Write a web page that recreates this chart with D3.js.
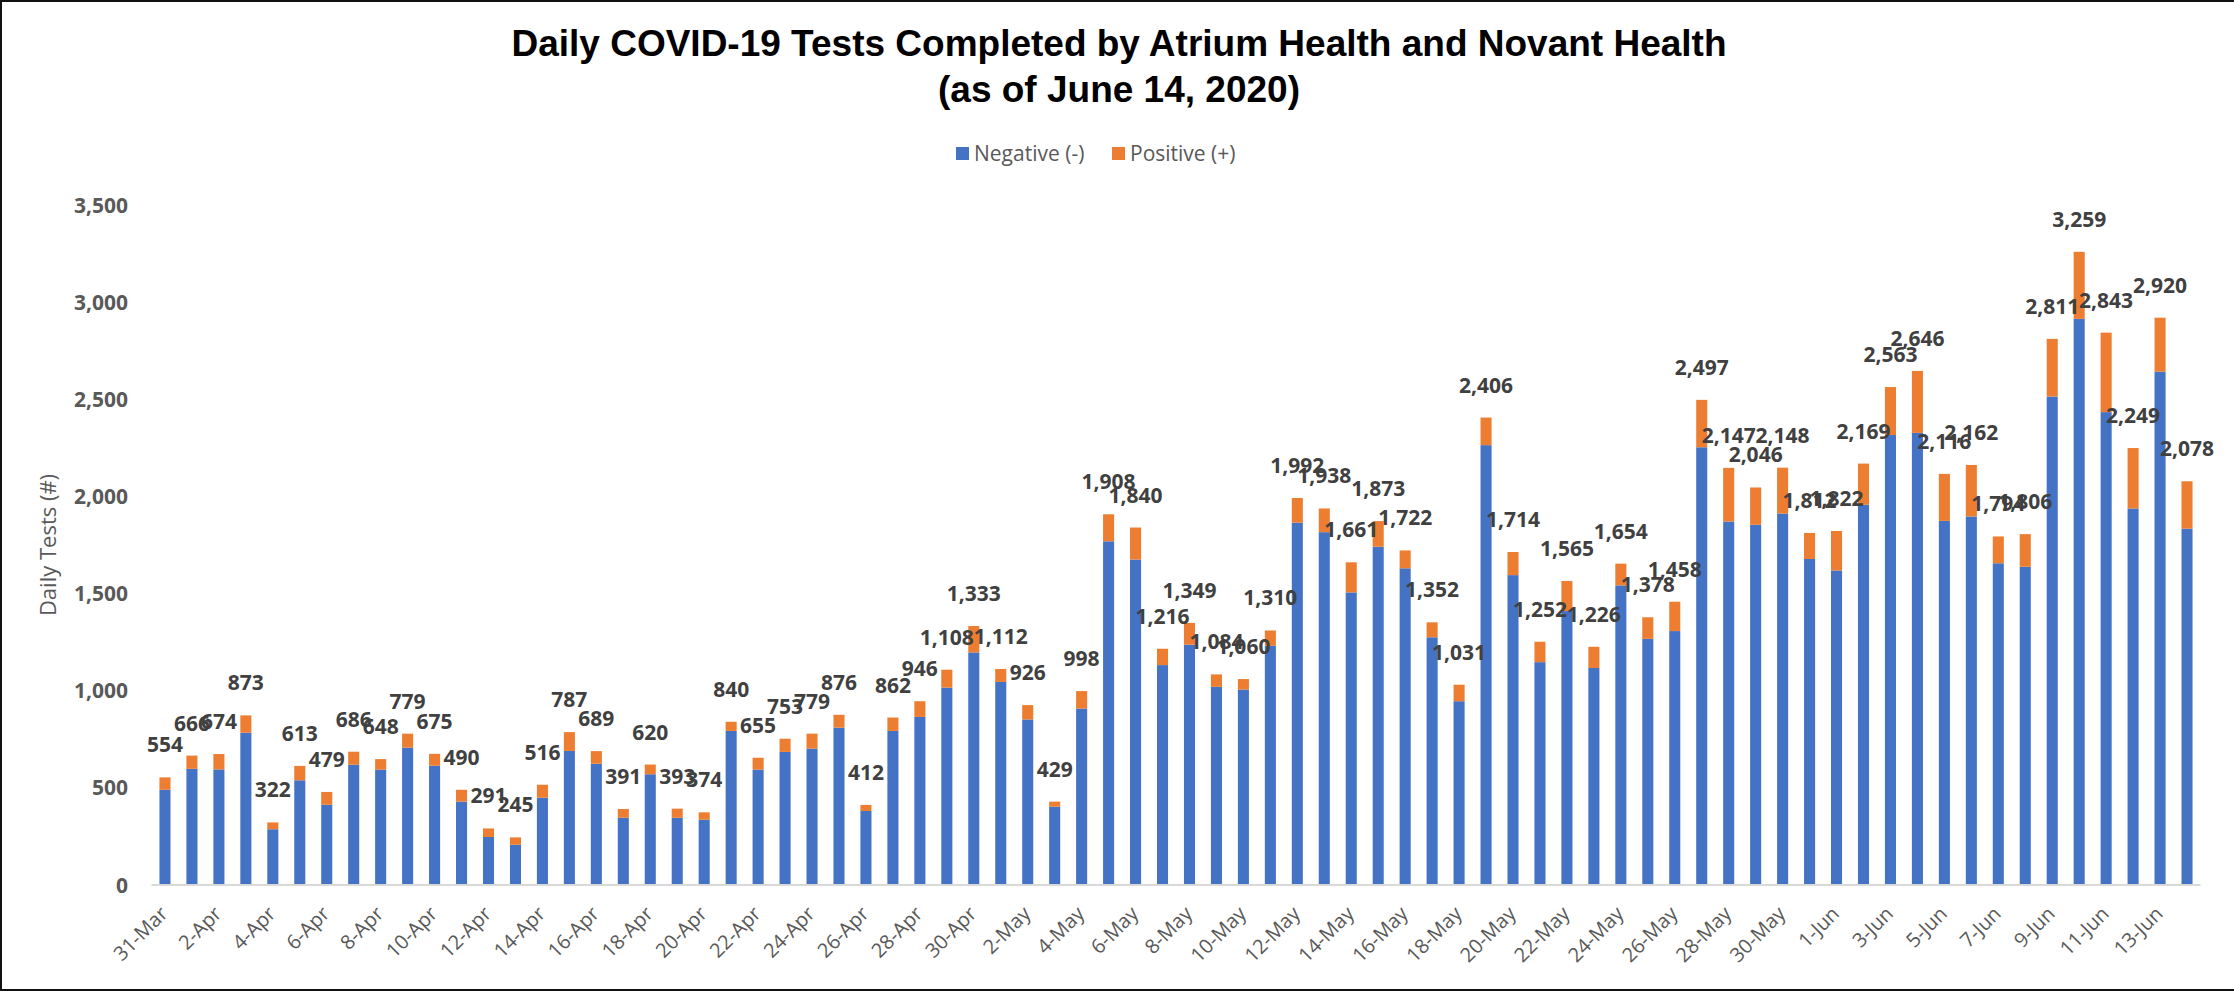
<!DOCTYPE html>
<html>
<head>
<meta charset="utf-8">
<script src="https://cdn.jsdelivr.net/npm/d3@7"></script>
<style>
  body { margin: 0; background: #fff; }
  svg { display: block; }
</style>
</head>
<body>
<svg id="chart" width="2234" height="992"></svg>
<script>
// Daily tests
var dates = ["31-Mar",
  "1-Apr","2-Apr","3-Apr","4-Apr","5-Apr","6-Apr","7-Apr","8-Apr","9-Apr","10-Apr",
  "11-Apr","12-Apr","13-Apr","14-Apr","15-Apr","16-Apr","17-Apr","18-Apr","19-Apr","20-Apr",
  "21-Apr","22-Apr","23-Apr","24-Apr","25-Apr","26-Apr","27-Apr","28-Apr","29-Apr","30-Apr",
  "1-May","2-May","3-May","4-May","5-May","6-May","7-May","8-May","9-May","10-May",
  "11-May","12-May","13-May","14-May","15-May","16-May","17-May","18-May","19-May","20-May",
  "21-May","22-May","23-May","24-May","25-May","26-May","27-May","28-May","29-May","30-May","31-May",
  "1-Jun","2-Jun","3-Jun","4-Jun","5-Jun","6-Jun","7-Jun","8-Jun","9-Jun","10-Jun",
  "11-Jun","12-Jun","13-Jun","14-Jun"];

// total tests (the data labels)
var totals = [554,
  666,674,873,322,613,479,686,648,779,675,
  490,291,245,516,787,689,391,620,393,374,
  840,655,753,779,876,412,862,946,1108,1333,
  1112,926,429,998,1908,1840,1216,1349,1084,1060,
  1310,1992,1938,1661,1873,1722,1352,1031,2406,1714,
  1252,1565,1226,1654,1378,1458,2497,2147,2046,2148,1812,
  1822,2169,2563,2646,2116,2162,1794,1806,2811,3259,
  2843,2249,2920,2078];

// negative part (blue)
var negatives = [490,
  598,595,784,287,539,413,619,594,707,614,
  429,247,207,449,690,624,346,570,346,336,
  793,594,685,702,810,381,793,865,1016,1197,
  1045,852,403,908,1769,1675,1132,1237,1020,1006,
  1231,1865,1816,1506,1741,1630,1275,946,2264,1595,
  1147,1410,1117,1542,1267,1307,2253,1871,1854,1912,1678,
  1619,1957,2316,2327,1874,1897,1656,1638,2514,2914,
  2434,1938,2642,1834];

var yTicks = [0, 500, 1000, 1500, 2000, 2500, 3000, 3500];
var seriesNames = ["Negative (-)", "Positive (+)"];
var colors = ["#4472C4", "#ED7D31"];

var svg = d3.select("#chart");

// frame lines
svg.append("line").attr("x1", 0).attr("x2", 2234).attr("y1", 1).attr("y2", 1)
  .style("stroke", "#111").style("stroke-width", 2);
svg.append("line").attr("x1", 1).attr("x2", 1).attr("y1", 0).attr("y2", 991)
  .style("stroke", "#111").style("stroke-width", 2);
svg.append("line").attr("x1", 0).attr("x2", 2234).attr("y1", 990).attr("y2", 990)
  .style("stroke", "#111").style("stroke-width", 2);

// title
var title = svg.append("text")
  .attr("x", 1119)
  .attr("text-anchor", "middle")
  .style("font-family", "'Liberation Sans', Arial, sans-serif")
  .style("font-weight", "bold")
  .style("font-size", "37px")
  .style("fill", "#000");
title.append("tspan").attr("x", 1119).attr("y", 56)
  .text("Daily COVID-19 Tests Completed by Atrium Health and Novant Health");
title.append("tspan").attr("x", 1119).attr("y", 102)
  .text("(as of June 14, 2020)");

// legend
var legendX = [956, 1112];
seriesNames.forEach(function(name, i) {
  svg.append("rect")
    .attr("x", legendX[i]).attr("y", 147)
    .attr("width", 13).attr("height", 13)
    .style("fill", colors[i]);
  svg.append("text")
    .attr("x", legendX[i] + 18).attr("y", 161)
    .style("font-family", "'Open Sans', sans-serif")
    .style("font-size", "21px")
    .style("fill", "#595959")
    .text(name);
});

// scales
var x = d3.scaleBand()
  .domain(dates)
  .range([151.5, 2200.5])
  .paddingInner(0.59)
  .paddingOuter(0.295);

var y = d3.scaleLinear()
  .domain([0, 3500])
  .range([885, 205]);

var data = dates.map(function(d, i) {
  return { date: d, neg: negatives[i], pos: totals[i] - negatives[i], total: totals[i] };
});

var stack = d3.stack().keys(["neg", "pos"]);
var layers = stack(data);

svg.append("g")
  .selectAll("g")
  .data(layers)
  .enter()
  .append("g")
  .style("fill", function(d, i) { return colors[i]; })
  .selectAll("rect")
  .data(function(d) { return d; })
  .enter()
  .append("rect")
  .attr("x", function(d) { return x(d.data.date); })
  .attr("y", function(d) { return y(d[1]); })
  .attr("width", x.bandwidth())
  .attr("height", function(d) { return y(d[0]) - y(d[1]); });

// baseline
svg.append("line")
  .attr("x1", 151.5).attr("x2", 2200.5)
  .attr("y1", y(0)).attr("y2", y(0))
  .style("stroke", "#d9d9d9").style("stroke-width", 2);

// y axis labels
svg.append("g")
  .selectAll("text")
  .data(yTicks)
  .enter()
  .append("text")
  .attr("x", 128)
  .attr("y", function(d) { return y(d) + 7.5; })
  .attr("text-anchor", "end")
  .style("font-family", "'Open Sans', sans-serif")
  .style("font-weight", "bold")
  .style("font-size", "21px")
  .style("fill", "#595959")
  .text(function(d) { return d3.format(",")(d); });

// y axis title
svg.append("text")
  .attr("transform", "translate(56,545) rotate(-90)")
  .attr("text-anchor", "middle")
  .style("font-family", "'Open Sans', sans-serif")
  .style("font-size", "22px")
  .style("fill", "#595959")
  .text("Daily Tests (#)");

// x axis labels, every other day
svg.append("g")
  .selectAll("text")
  .data(dates.filter(function(d, i) { return i % 2 === 0; }))
  .enter()
  .append("text")
  .attr("transform", function(d) {
    return "translate(" + (x(d) + x.bandwidth() / 2 + 4) + ",915) rotate(-45)";
  })
  .attr("text-anchor", "end")
  .style("font-family", "'Open Sans', sans-serif")
  .style("font-size", "20px")
  .style("fill", "#595959")
  .text(function(d) { return d; });

// data labels
svg.append("g")
  .selectAll("text")
  .data(data)
  .enter()
  .append("text")
  .attr("x", function(d) { return x(d.date) + x.bandwidth() / 2; })
  .attr("y", function(d) { return y(d.total) - 25; })
  .attr("text-anchor", "middle")
  .style("font-family", "'Open Sans', sans-serif")
  .style("font-weight", "bold")
  .style("font-size", "21px")
  .style("fill", "#404040")
  .text(function(d) { return d3.format(",")(d.total); });
</script>
</body>
</html>
